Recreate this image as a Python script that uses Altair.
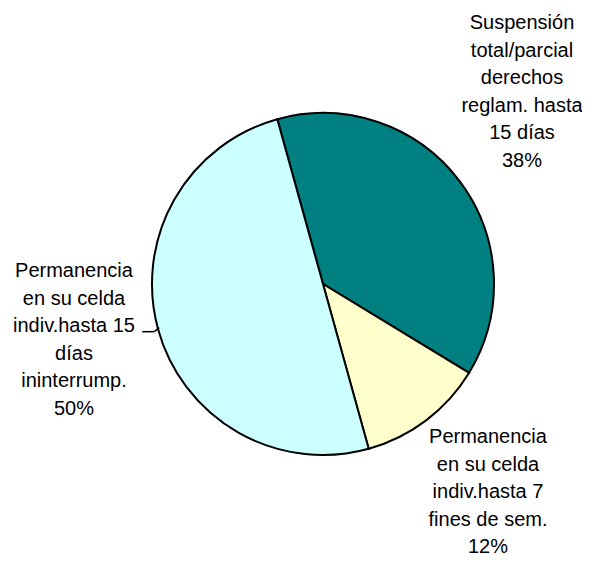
import math
import altair as alt
import pandas as pd

# ---- data ----
categories = [
    "Suspensión total/parcial derechos reglam. hasta 15 días",
    "Permanencia en su celda indiv.hasta 7 fines de sem.",
    "Permanencia en su celda indiv.hasta 15 días ininterrump.",
]
values = [38, 12, 50]
label_lines = [
    ["Suspensión", "total/parcial", "derechos", "reglam. hasta", "15 días", "38%"],
    ["Permanencia", "en su celda", "indiv.hasta 7", "fines de sem.", "12%"],
    ["Permanencia", "en su celda", "indiv.hasta 15", "días", "ininterrump.", "50%"],
]
colors = ["#008080", "#FFFFCC", "#CCFFFF"]

# ---- geometry / style ----
W, H = 574, 548
CX, CY, R = 315, 276, 171
START = math.radians(-15.5)
TEXT_R = 200
LINE_H = 27.5
# label block centres (plot coordinates)
label_targets = [(514, 84), (480, 484), (66, 332)]

total = sum(values)
df = pd.DataFrame({
    "idx": list(range(len(categories))),
    "cat": categories,
    "value": values,
    "label": ["\n".join(l) for l in label_lines],
})

theta_scale = alt.Scale(domain=[0, total], range=[START, START + 2 * math.pi])

base = alt.Chart(df)

arc = base.mark_arc(outerRadius=R, stroke="black", strokeWidth=2).encode(
    theta=alt.Theta("value:Q", stack=True, scale=theta_scale),
    color=alt.Color("cat:N", scale=alt.Scale(domain=categories, range=colors), legend=None),
    order=alt.Order("idx:Q"),
    x=alt.value(CX),
    y=alt.value(CY),
)

layers = [arc]
cum = 0
mids = []
for i, cat in enumerate(categories):
    mid = cum + values[i] / 2
    cum += values[i]
    mids.append(mid)
    ang = START + 2 * math.pi * mid / total
    bx = CX + TEXT_R * math.sin(ang)
    by = CY - TEXT_R * math.cos(ang)
    tx, ty = label_targets[i]
    ty_first = ty - (len(label_lines[i]) - 1) / 2 * LINE_H
    txt = (
        base.transform_window(cum="sum(value)", sort=[alt.SortField("idx")])
        .transform_calculate(mid="datum.cum - datum.value / 2")
        .transform_filter(alt.datum.idx == i)
        .mark_text(
            radius=TEXT_R,
            dx=tx - bx,
            dy=ty_first - by,
            font="Liberation Sans",
            fontSize=20,
            lineHeight=LINE_H,
            lineBreak="\n",
            align="center",
            baseline="middle",
            color="black",
        )
        .encode(
            theta=alt.Theta("mid:Q", stack=None, scale=theta_scale),
            text="label:N",
            x=alt.value(CX),
            y=alt.value(CY),
        )
    )
    layers.append(txt)

# leader line for the 50% slice
ang3 = START + 2 * math.pi * mids[2] / total
ex = CX + R * math.sin(ang3)
ey = CY - R * math.cos(ang3)
leader1 = base.transform_filter(alt.datum.idx == 2).mark_rule(color="black", strokeWidth=1.5).encode(
    x=alt.value(ex + 1), x2=alt.value(ex - 4), y=alt.value(ey - 2), y2=alt.value(ey + 2)
)
leader2 = base.transform_filter(alt.datum.idx == 2).mark_rule(color="black", strokeWidth=1.5).encode(
    x=alt.value(ex - 4), x2=alt.value(ex - 16), y=alt.value(ey + 2), y2=alt.value(ey + 2)
)
layers += [leader1, leader2]

chart = (
    alt.layer(*layers)
    .properties(width=W, height=H, padding=0, autosize=alt.AutoSizeParams(type="none"))
    .configure_view(stroke=None)
)

chart.save("out.html", embed_options={"renderer": "svg", "actions": False})
